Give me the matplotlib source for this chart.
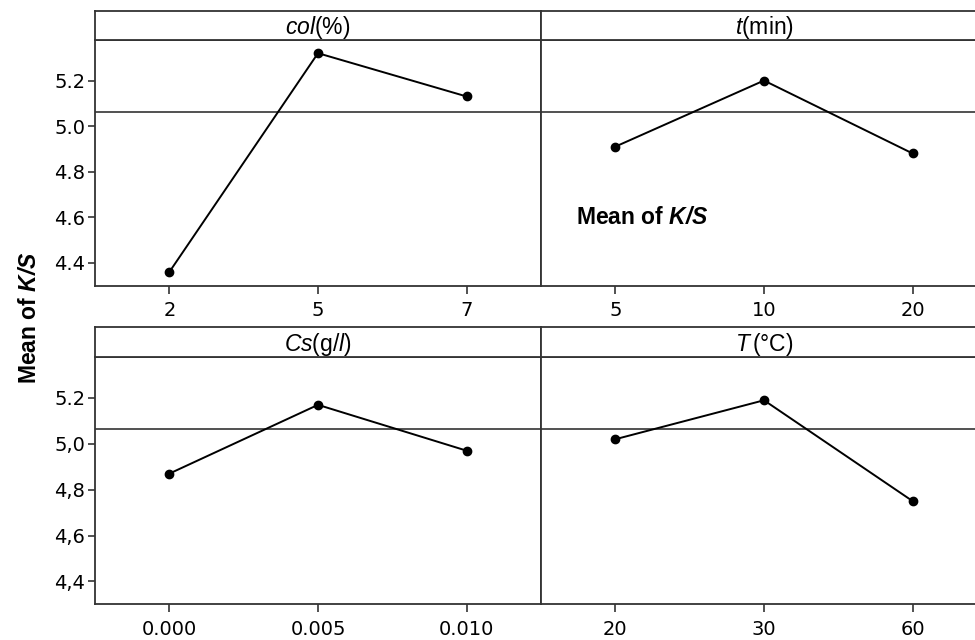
import matplotlib.pyplot as plt
import numpy as np

plt.rcParams['font.family'] = ['DejaVu Sans']
plt.rcParams['mathtext.fontset'] = 'custom'
plt.rcParams['mathtext.rm'] = 'Liberation Sans'
plt.rcParams['mathtext.it'] = 'Liberation Sans:italic'
plt.rcParams['mathtext.bf'] = 'Liberation Sans:bold'
plt.rcParams['mathtext.bfit'] = 'Liberation Sans:italic:bold'

# main effects data
col_levels = ['2', '5', '7']
col_means = [4.36, 5.32, 5.13]
t_levels = ['5', '10', '20']
t_means = [4.91, 5.20, 4.88]
cs_levels = ['0.000', '0.005', '0.010']
cs_means = [4.87, 5.17, 4.97]
temp_levels = ['20', '30', '60']
temp_means = [5.02, 5.19, 4.75]
grand_mean = 5.063

titles = [r'$\mathit{col}$(%)', r'$\mathit{t}$(min)', r'$\mathit{Cs}$(g/$\mathit{l}$)', r'$\mathit{T}\,$(°C)']
levels = [col_levels, t_levels, cs_levels, temp_levels]
means = [col_means, t_means, cs_means, temp_means]
ytick_vals = [4.4, 4.6, 4.8, 5.0, 5.2]
ylabels_top = ['4.4', '4.6', '4.8', '5.0', '5.2']
ylabels_bot = ['4,4', '4,6', '4,8', '5,0', '5.2']

W, H = 975, 640
fig = plt.figure(figsize=(W / 100, H / 100), dpi=100)

edge = '#333333'
lw_frame = 1.3

x_left = [95, 541]
w_ax = 446
rows = [(39.5, 285.7, 10.7), (356.7, 604.3, 326.7)]  # (data top, data bottom, strip top) in px

for i in range(4):
    r, c = divmod(i, 2)
    top, bot, stop = rows[r]
    x0 = x_left[c]
    ax = fig.add_axes([x0 / W, 1 - bot / H, w_ax / W, (bot - top) / H])
    sax = fig.add_axes([x0 / W, 1 - top / H, w_ax / W, (top - stop) / H])

    xs = np.arange(len(levels[i]))
    ax.axhline(grand_mean, color=edge, lw=1.2, zorder=1)
    ax.plot(xs, means[i], color='black', lw=1.4, marker='o', markersize=6, zorder=3)
    ax.set_xlim(-0.5, 2.5)
    ax.set_ylim(4.30, 5.38)
    ax.set_xticks(xs)
    ax.set_xticklabels(levels[i], fontsize=14)
    ax.tick_params(axis='x', direction='out', length=6, width=1.2, color=edge, pad=5)

    if c == 0:
        ax.set_yticks(ytick_vals)
        ax.set_yticklabels(ylabels_top if r == 0 else ylabels_bot, fontsize=14)
        ax.tick_params(axis='y', direction='out', length=5, width=1.2, color=edge, pad=2)
    else:
        ax.set_yticks([])
    for s in ax.spines.values():
        s.set_color(edge)
        s.set_linewidth(lw_frame)

    sax.set_xticks([])
    sax.set_yticks([])
    for s in sax.spines.values():
        s.set_color(edge)
        s.set_linewidth(lw_frame)
    sax.text(0.5, 0.42, titles[i], transform=sax.transAxes, ha='center', va='center',
             fontsize=16.5, family='Liberation Sans')

# y axis label for whole figure
fig.text(30 / W, 1 - 318 / H, r'Mean of $\mathbfit{K/S}$', rotation=90, ha='center', va='center',
         fontsize=16.5, fontweight='bold', family='Liberation Sans')

# stray label inside the t panel
fig.text(576 / W, 1 - 218 / H, r'Mean of $\mathbfit{K/S}$', ha='left', va='center',
         fontsize=16.5, fontweight='bold', family='Liberation Sans')

fig.savefig('out.png', dpi=100, facecolor='white')
